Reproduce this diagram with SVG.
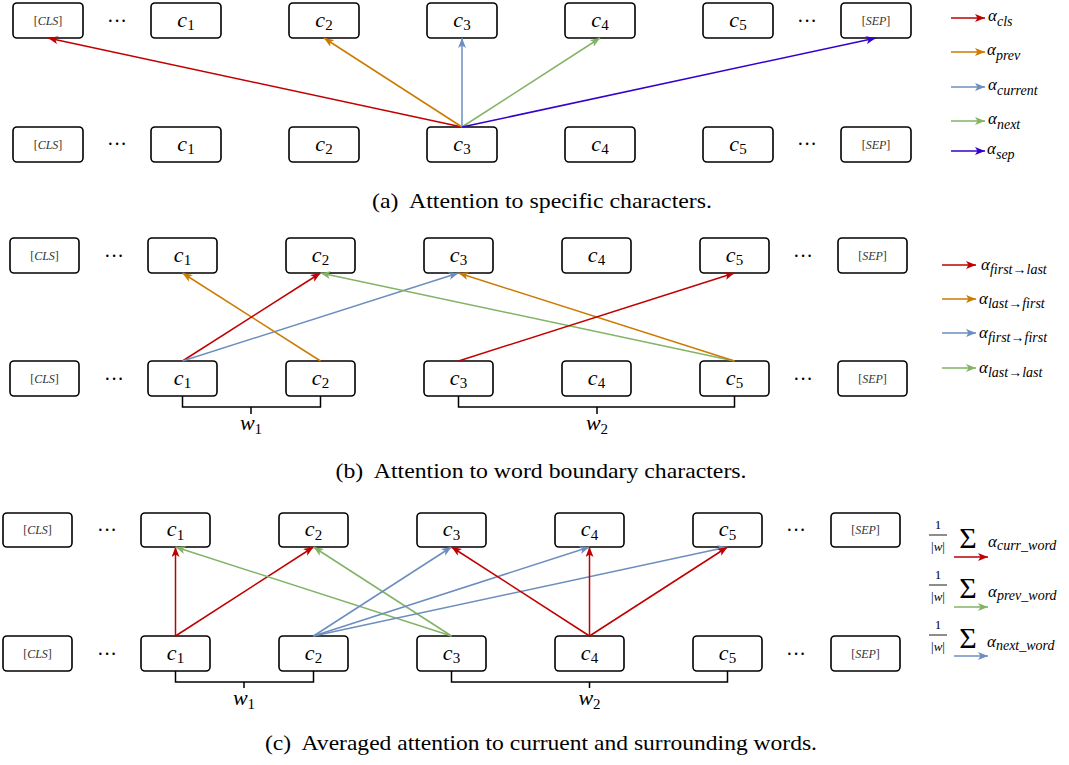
<svg xmlns="http://www.w3.org/2000/svg" width="1069" height="765" viewBox="0 0 1069 765">
<style>
.box{fill:#fff;stroke:#000;stroke-width:1.6}
.c{font-family:"Liberation Serif",serif;font-size:22px;font-style:italic;text-anchor:middle;fill:#000}
.sub{font-size:15px;font-style:normal}
.tok{font-family:"Liberation Serif",serif;font-size:12px;text-anchor:middle;fill:#333}
.dots{font-family:"Liberation Serif",serif;font-size:20px;text-anchor:middle;fill:#000}
.cap{font-family:"Liberation Serif",serif;font-size:22px;text-anchor:middle;fill:#000;white-space:pre}
.lg{font-family:"Liberation Serif",serif;font-size:17px;font-style:italic;fill:#000}
.ls{font-size:14px}
.br{fill:none;stroke:#000;stroke-width:1.5}
.ar{fill:none;stroke-width:1.5}
.red{stroke:#C00000}.org{stroke:#CC7A00}.blu{stroke:#6C8EBF}.grn{stroke:#82B366}.pur{stroke:#3300CC}
.frac{font-family:"Liberation Serif",serif;font-size:13px;text-anchor:middle;fill:#000}
.sig{font-family:"Liberation Serif",serif;font-size:30px;text-anchor:middle;fill:#000}
</style>
<defs>
<marker id="mRed" viewBox="0 0 10 8" refX="10" refY="4" markerWidth="10" markerHeight="8" markerUnits="userSpaceOnUse" orient="auto"><path d="M0,0 L10,4 L0,8 L2.5,4 z" fill="#C00000"/></marker>
<marker id="mOrg" viewBox="0 0 10 8" refX="10" refY="4" markerWidth="10" markerHeight="8" markerUnits="userSpaceOnUse" orient="auto"><path d="M0,0 L10,4 L0,8 L2.5,4 z" fill="#CC7A00"/></marker>
<marker id="mBlu" viewBox="0 0 10 8" refX="10" refY="4" markerWidth="10" markerHeight="8" markerUnits="userSpaceOnUse" orient="auto"><path d="M0,0 L10,4 L0,8 L2.5,4 z" fill="#6C8EBF"/></marker>
<marker id="mGrn" viewBox="0 0 10 8" refX="10" refY="4" markerWidth="10" markerHeight="8" markerUnits="userSpaceOnUse" orient="auto"><path d="M0,0 L10,4 L0,8 L2.5,4 z" fill="#82B366"/></marker>
<marker id="mPur" viewBox="0 0 10 8" refX="10" refY="4" markerWidth="10" markerHeight="8" markerUnits="userSpaceOnUse" orient="auto"><path d="M0,0 L10,4 L0,8 L2.5,4 z" fill="#3300CC"/></marker>
</defs>
<rect width="1069" height="765" fill="#fff"/>

<!-- ===== Panel (a) ===== -->
<g id="a-top-cls"><rect class="box" x="13" y="3" width="70" height="35" rx="4"/><text class="tok" x="48" y="25">[<tspan font-style="italic">CLS</tspan>]</text></g>
<text class="dots" x="117" y="28">···</text>
<g id="a-top-c1"><rect class="box" x="151" y="3" width="70" height="35" rx="4"/><text class="c" x="186" y="26.5">c<tspan class="sub" dy="3.5">1</tspan></text></g>
<g id="a-top-c2"><rect class="box" x="289" y="3" width="70" height="35" rx="4"/><text class="c" x="324" y="26.5">c<tspan class="sub" dy="3.5">2</tspan></text></g>
<g id="a-top-c3"><rect class="box" x="427" y="3" width="70" height="35" rx="4"/><text class="c" x="462" y="26.5">c<tspan class="sub" dy="3.5">3</tspan></text></g>
<g id="a-top-c4"><rect class="box" x="565" y="3" width="70" height="35" rx="4"/><text class="c" x="600" y="26.5">c<tspan class="sub" dy="3.5">4</tspan></text></g>
<g id="a-top-c5"><rect class="box" x="703" y="3" width="70" height="35" rx="4"/><text class="c" x="738" y="26.5">c<tspan class="sub" dy="3.5">5</tspan></text></g>
<text class="dots" x="807" y="28">···</text>
<g id="a-top-sep"><rect class="box" x="841" y="3" width="70" height="35" rx="4"/><text class="tok" x="876" y="25">[<tspan font-style="italic">SEP</tspan>]</text></g>

<g id="a-bot-cls"><rect class="box" x="13" y="127" width="70" height="35" rx="4"/><text class="tok" x="48" y="149">[<tspan font-style="italic">CLS</tspan>]</text></g>
<text class="dots" x="117" y="151">···</text>
<g id="a-bot-c1"><rect class="box" x="151" y="127" width="70" height="35" rx="4"/><text class="c" x="186" y="150.5">c<tspan class="sub" dy="3.5">1</tspan></text></g>
<g id="a-bot-c2"><rect class="box" x="289" y="127" width="70" height="35" rx="4"/><text class="c" x="324" y="150.5">c<tspan class="sub" dy="3.5">2</tspan></text></g>
<g id="a-bot-c3"><rect class="box" x="427" y="127" width="70" height="35" rx="4"/><text class="c" x="462" y="150.5">c<tspan class="sub" dy="3.5">3</tspan></text></g>
<g id="a-bot-c4"><rect class="box" x="565" y="127" width="70" height="35" rx="4"/><text class="c" x="600" y="150.5">c<tspan class="sub" dy="3.5">4</tspan></text></g>
<g id="a-bot-c5"><rect class="box" x="703" y="127" width="70" height="35" rx="4"/><text class="c" x="738" y="150.5">c<tspan class="sub" dy="3.5">5</tspan></text></g>
<text class="dots" x="807" y="151">···</text>
<g id="a-bot-sep"><rect class="box" x="841" y="127" width="70" height="35" rx="4"/><text class="tok" x="876" y="149">[<tspan font-style="italic">SEP</tspan>]</text></g>

<g id="a-connectors">
<line class="ar red" x1="462" y1="127" x2="48" y2="38" marker-end="url(#mRed)"/>
<line class="ar org" x1="462" y1="127" x2="324" y2="38" marker-end="url(#mOrg)"/>
<line class="ar blu" x1="462" y1="127" x2="462" y2="38" marker-end="url(#mBlu)"/>
<line class="ar grn" x1="462" y1="127" x2="600" y2="38" marker-end="url(#mGrn)"/>
<line class="ar pur" x1="462" y1="127" x2="876" y2="38" marker-end="url(#mPur)"/>
</g>

<g id="a-legend">
<line class="ar red" x1="951" y1="18" x2="985" y2="18" marker-end="url(#mRed)"/>
<text class="lg" x="988" y="21">α<tspan class="ls" dy="5">cls</tspan></text>
<line class="ar org" x1="951" y1="52" x2="985" y2="52" marker-end="url(#mOrg)"/>
<text class="lg" x="987" y="55">α<tspan class="ls" dy="5">prev</tspan></text>
<line class="ar blu" x1="951" y1="87" x2="985" y2="87" marker-end="url(#mBlu)"/>
<text class="lg" x="988" y="90">α<tspan class="ls" dy="5">current</tspan></text>
<line class="ar grn" x1="951" y1="121" x2="985" y2="121" marker-end="url(#mGrn)"/>
<text class="lg" x="988" y="124">α<tspan class="ls" dy="5">next</tspan></text>
<line class="ar pur" x1="951" y1="151" x2="985" y2="151" marker-end="url(#mPur)"/>
<text class="lg" x="987" y="154">α<tspan class="ls" dy="5">sep</tspan></text>
</g>

<text class="cap" x="542" y="208" textLength="340" lengthAdjust="spacingAndGlyphs" xml:space="preserve">(a)  Attention to specific characters.</text>

<!-- ===== Panel (b) ===== -->
<g id="b-top-cls"><rect class="box" x="10" y="238" width="69" height="35" rx="4"/><text class="tok" x="44.5" y="260">[<tspan font-style="italic">CLS</tspan>]</text></g>
<text class="dots" x="114" y="263">···</text>
<g id="b-top-c1"><rect class="box" x="148" y="238" width="69" height="35" rx="4"/><text class="c" x="182.5" y="261.5">c<tspan class="sub" dy="3.5">1</tspan></text></g>
<g id="b-top-c2"><rect class="box" x="286" y="238" width="69" height="35" rx="4"/><text class="c" x="320.5" y="261.5">c<tspan class="sub" dy="3.5">2</tspan></text></g>
<g id="b-top-c3"><rect class="box" x="424" y="238" width="69" height="35" rx="4"/><text class="c" x="458.5" y="261.5">c<tspan class="sub" dy="3.5">3</tspan></text></g>
<g id="b-top-c4"><rect class="box" x="562" y="238" width="69" height="35" rx="4"/><text class="c" x="596.5" y="261.5">c<tspan class="sub" dy="3.5">4</tspan></text></g>
<g id="b-top-c5"><rect class="box" x="700" y="238" width="69" height="35" rx="4"/><text class="c" x="734.5" y="261.5">c<tspan class="sub" dy="3.5">5</tspan></text></g>
<text class="dots" x="803" y="263">···</text>
<g id="b-top-sep"><rect class="box" x="838" y="238" width="69" height="35" rx="4"/><text class="tok" x="872.5" y="260">[<tspan font-style="italic">SEP</tspan>]</text></g>

<g id="b-bot-cls"><rect class="box" x="10" y="361" width="69" height="35" rx="4"/><text class="tok" x="44.5" y="383">[<tspan font-style="italic">CLS</tspan>]</text></g>
<text class="dots" x="114" y="386">···</text>
<g id="b-bot-c1"><rect class="box" x="148" y="361" width="69" height="35" rx="4"/><text class="c" x="182.5" y="384.5">c<tspan class="sub" dy="3.5">1</tspan></text></g>
<g id="b-bot-c2"><rect class="box" x="286" y="361" width="69" height="35" rx="4"/><text class="c" x="320.5" y="384.5">c<tspan class="sub" dy="3.5">2</tspan></text></g>
<g id="b-bot-c3"><rect class="box" x="424" y="361" width="69" height="35" rx="4"/><text class="c" x="458.5" y="384.5">c<tspan class="sub" dy="3.5">3</tspan></text></g>
<g id="b-bot-c4"><rect class="box" x="562" y="361" width="69" height="35" rx="4"/><text class="c" x="596.5" y="384.5">c<tspan class="sub" dy="3.5">4</tspan></text></g>
<g id="b-bot-c5"><rect class="box" x="700" y="361" width="69" height="35" rx="4"/><text class="c" x="734.5" y="384.5">c<tspan class="sub" dy="3.5">5</tspan></text></g>
<text class="dots" x="803" y="386">···</text>
<g id="b-bot-sep"><rect class="box" x="838" y="361" width="69" height="35" rx="4"/><text class="tok" x="872.5" y="383">[<tspan font-style="italic">SEP</tspan>]</text></g>

<g id="b-word1"><path class="br" d="M182.5,396 V407 H320.5 V396 M251,407 V414"/><text class="c" x="251" y="430">w<tspan class="sub" dy="3.5">1</tspan></text></g>
<g id="b-word2"><path class="br" d="M458.5,396 V407 H734.5 V396 M597,407 V414"/><text class="c" x="597" y="430">w<tspan class="sub" dy="3.5">2</tspan></text></g>

<g id="b-connectors">
<line class="ar org" x1="320.5" y1="361" x2="182.5" y2="273" marker-end="url(#mOrg)"/>
<line class="ar red" x1="182.5" y1="361" x2="320.5" y2="273" marker-end="url(#mRed)"/>
<line class="ar blu" x1="182.5" y1="361" x2="458.5" y2="273" marker-end="url(#mBlu)"/>
<line class="ar grn" x1="734.5" y1="361" x2="320.5" y2="273" marker-end="url(#mGrn)"/>
<line class="ar org" x1="734.5" y1="361" x2="458.5" y2="273" marker-end="url(#mOrg)"/>
<line class="ar red" x1="458.5" y1="361" x2="734.5" y2="273" marker-end="url(#mRed)"/>
</g>

<g id="b-legend">
<line class="ar red" x1="942" y1="265" x2="976" y2="265" marker-end="url(#mRed)"/>
<text class="lg" x="981" y="270">α<tspan class="ls" font-size="15" dy="4">first→last</tspan></text>
<line class="ar org" x1="942" y1="299" x2="976" y2="299" marker-end="url(#mOrg)"/>
<text class="lg" x="979" y="304">α<tspan class="ls" font-size="15" dy="4">last→first</tspan></text>
<line class="ar blu" x1="942" y1="333" x2="976" y2="333" marker-end="url(#mBlu)"/>
<text class="lg" x="979" y="338">α<tspan class="ls" font-size="15" dy="4">first→first</tspan></text>
<line class="ar grn" x1="942" y1="368" x2="976" y2="368" marker-end="url(#mGrn)"/>
<text class="lg" x="979" y="373">α<tspan class="ls" font-size="15" dy="4">last→last</tspan></text>
</g>

<text class="cap" x="541" y="478" textLength="411" lengthAdjust="spacingAndGlyphs" xml:space="preserve">(b)  Attention to word boundary characters.</text>

<!-- ===== Panel (c) ===== -->
<g id="c-top-cls"><rect class="box" x="3" y="513" width="69" height="34" rx="4"/><text class="tok" x="37.5" y="534">[<tspan font-style="italic">CLS</tspan>]</text></g>
<text class="dots" x="107" y="537">···</text>
<g id="c-top-c1"><rect class="box" x="141" y="513" width="69" height="34" rx="4"/><text class="c" x="175.5" y="536">c<tspan class="sub" dy="3.5">1</tspan></text></g>
<g id="c-top-c2"><rect class="box" x="279" y="513" width="69" height="34" rx="4"/><text class="c" x="313.5" y="536">c<tspan class="sub" dy="3.5">2</tspan></text></g>
<g id="c-top-c3"><rect class="box" x="417" y="513" width="69" height="34" rx="4"/><text class="c" x="451.5" y="536">c<tspan class="sub" dy="3.5">3</tspan></text></g>
<g id="c-top-c4"><rect class="box" x="555" y="513" width="69" height="34" rx="4"/><text class="c" x="589.5" y="536">c<tspan class="sub" dy="3.5">4</tspan></text></g>
<g id="c-top-c5"><rect class="box" x="693" y="513" width="69" height="34" rx="4"/><text class="c" x="727.5" y="536">c<tspan class="sub" dy="3.5">5</tspan></text></g>
<text class="dots" x="796" y="537">···</text>
<g id="c-top-sep"><rect class="box" x="831" y="513" width="69" height="34" rx="4"/><text class="tok" x="865.5" y="534">[<tspan font-style="italic">SEP</tspan>]</text></g>

<g id="c-bot-cls"><rect class="box" x="3" y="636" width="69" height="35" rx="4"/><text class="tok" x="37.5" y="658">[<tspan font-style="italic">CLS</tspan>]</text></g>
<text class="dots" x="107" y="661">···</text>
<g id="c-bot-c1"><rect class="box" x="141" y="636" width="69" height="35" rx="4"/><text class="c" x="175.5" y="659.5">c<tspan class="sub" dy="3.5">1</tspan></text></g>
<g id="c-bot-c2"><rect class="box" x="279" y="636" width="69" height="35" rx="4"/><text class="c" x="313.5" y="659.5">c<tspan class="sub" dy="3.5">2</tspan></text></g>
<g id="c-bot-c3"><rect class="box" x="417" y="636" width="69" height="35" rx="4"/><text class="c" x="451.5" y="659.5">c<tspan class="sub" dy="3.5">3</tspan></text></g>
<g id="c-bot-c4"><rect class="box" x="555" y="636" width="69" height="35" rx="4"/><text class="c" x="589.5" y="659.5">c<tspan class="sub" dy="3.5">4</tspan></text></g>
<g id="c-bot-c5"><rect class="box" x="693" y="636" width="69" height="35" rx="4"/><text class="c" x="727.5" y="659.5">c<tspan class="sub" dy="3.5">5</tspan></text></g>
<text class="dots" x="796" y="661">···</text>
<g id="c-bot-sep"><rect class="box" x="831" y="636" width="69" height="35" rx="4"/><text class="tok" x="865.5" y="658">[<tspan font-style="italic">SEP</tspan>]</text></g>

<g id="c-word1"><path class="br" d="M175.5,671 V682 H313.5 V671 M244,682 V688"/><text class="c" x="244" y="705">w<tspan class="sub" dy="3.5">1</tspan></text></g>
<g id="c-word2"><path class="br" d="M451.5,671 V682 H727.5 V671 M589.5,682 V688"/><text class="c" x="589.5" y="705">w<tspan class="sub" dy="3.5">2</tspan></text></g>

<g id="c-connectors">
<line class="ar red" x1="175.5" y1="636" x2="175.5" y2="547" marker-end="url(#mRed)"/>
<line class="ar red" x1="175.5" y1="636" x2="313.5" y2="547" marker-end="url(#mRed)"/>
<line class="ar grn" x1="451.5" y1="636" x2="175.5" y2="547" marker-end="url(#mGrn)"/>
<line class="ar grn" x1="451.5" y1="636" x2="313.5" y2="547" marker-end="url(#mGrn)"/>
<line class="ar blu" x1="313.5" y1="636" x2="451.5" y2="547" marker-end="url(#mBlu)"/>
<line class="ar blu" x1="313.5" y1="636" x2="589.5" y2="547" marker-end="url(#mBlu)"/>
<line class="ar blu" x1="313.5" y1="636" x2="727.5" y2="547" marker-end="url(#mBlu)"/>
<line class="ar red" x1="589.5" y1="636" x2="451.5" y2="547" marker-end="url(#mRed)"/>
<line class="ar red" x1="589.5" y1="636" x2="589.5" y2="547" marker-end="url(#mRed)"/>
<line class="ar red" x1="589.5" y1="636" x2="727.5" y2="547" marker-end="url(#mRed)"/>
</g>

<g id="c-legend">
<g id="c-leg-curr">
<text class="frac" x="938" y="529">1</text>
<line x1="929" y1="535" x2="947" y2="535" stroke="#000" stroke-width="0.9"/>
<text class="frac" x="938" y="551">|<tspan font-style="italic">w</tspan>|</text>
<text class="sig" x="968" y="548">Σ</text>
<text class="lg" x="988" y="547">α<tspan class="ls" dy="3">curr_word</tspan></text>
<line class="ar red" x1="954" y1="557" x2="988" y2="557" marker-end="url(#mRed)"/>
</g>
<g id="c-leg-prev">
<text class="frac" x="938" y="579">1</text>
<line x1="929" y1="585" x2="947" y2="585" stroke="#000" stroke-width="0.9"/>
<text class="frac" x="938" y="601">|<tspan font-style="italic">w</tspan>|</text>
<text class="sig" x="968" y="598">Σ</text>
<text class="lg" x="988" y="597">α<tspan class="ls" dy="3">prev_word</tspan></text>
<line class="ar grn" x1="954" y1="607" x2="988" y2="607" marker-end="url(#mGrn)"/>
</g>
<g id="c-leg-next">
<text class="frac" x="938" y="629">1</text>
<line x1="929" y1="635" x2="947" y2="635" stroke="#000" stroke-width="0.9"/>
<text class="frac" x="938" y="651">|<tspan font-style="italic">w</tspan>|</text>
<text class="sig" x="968" y="648">Σ</text>
<text class="lg" x="987" y="647">α<tspan class="ls" dy="3">next_word</tspan></text>
<line class="ar blu" x1="954" y1="656" x2="988" y2="656" marker-end="url(#mBlu)"/>
</g>
</g>

<text class="cap" x="541" y="750" textLength="552" lengthAdjust="spacingAndGlyphs" xml:space="preserve">(c)  Averaged attention to curruent and surrounding words.</text>
</svg>
